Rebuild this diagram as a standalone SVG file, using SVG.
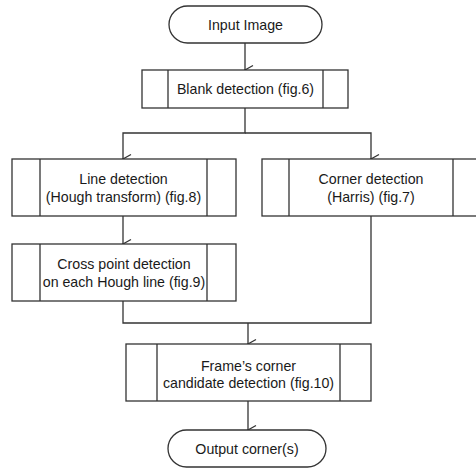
<svg xmlns="http://www.w3.org/2000/svg" width="476" height="468" viewBox="0 0 476 468">
<style>
.s{fill:#fff;stroke:#333;stroke-width:1.3}
.l{fill:none;stroke:#333;stroke-width:1.3}
text{font-family:"Liberation Sans",Arial,sans-serif;font-size:14.2px;fill:#1a1a1a;text-anchor:middle}
</style>
<defs>
<marker id="a" markerWidth="12" markerHeight="12" refX="6" refY="9" orient="auto" markerUnits="userSpaceOnUse" viewBox="0 0 12 12">
<path d="M1.5,1 L6,9 L10.5,1" fill="none" stroke="#333" stroke-width="1.3"/>
</marker>
</defs>
<g id="connectors">
<path class="l" d="M245,43 V70" marker-end="url(#a)"/>
<path class="l" d="M245,108 V133 H123 V159" marker-end="url(#a)"/>
<path class="l" d="M245,133 H371 V159" marker-end="url(#a)"/>
<path class="l" d="M123,216 V244" marker-end="url(#a)"/>
<path class="l" d="M123,301 V323 H371 V216"/>
<path class="l" d="M248,323 V344" marker-end="url(#a)"/>
<path class="l" d="M248,401 V430" marker-end="url(#a)"/>
</g>
<g id="input">
<rect class="s" x="169" y="6" width="153" height="37" rx="18.5"/>
<text x="245.5" y="30">Input Image</text>
</g>
<g id="blank">
<rect class="s" x="142" y="70" width="206" height="38"/>
<path class="l" d="M168,70 V108 M323,70 V108"/>
<text x="245.5" y="94">Blank detection (fig.6)</text>
</g>
<g id="line">
<rect class="s" x="12" y="159" width="224" height="57"/>
<path class="l" d="M40,159 V216 M207,159 V216"/>
<text x="123.5" y="184">Line detection</text>
<text x="123.5" y="202">(Hough transform) (fig.8)</text>
</g>
<g id="corner">
<rect class="s" x="262" y="159" width="218" height="57"/>
<path class="l" d="M289,159 V216 M453,159 V216"/>
<text x="371" y="184">Corner detection</text>
<text x="371" y="202">(Harris) (fig.7)</text>
</g>
<g id="cross">
<rect class="s" x="12" y="244" width="224" height="57"/>
<path class="l" d="M40,244 V301 M207,244 V301"/>
<text x="124" y="269">Cross point detection</text>
<text x="124" y="287">on each Hough line (fig.9)</text>
</g>
<g id="frame">
<rect class="s" x="126" y="344" width="245" height="57"/>
<path class="l" d="M157,344 V401 M340,344 V401"/>
<text x="248.5" y="371">Frame’s corner</text>
<text x="248.5" y="388">candidate detection (fig.10)</text>
</g>
<g id="output">
<rect class="s" x="168" y="430" width="158" height="37" rx="18.5"/>
<text x="247" y="454">Output corner(s)</text>
</g>
</svg>
